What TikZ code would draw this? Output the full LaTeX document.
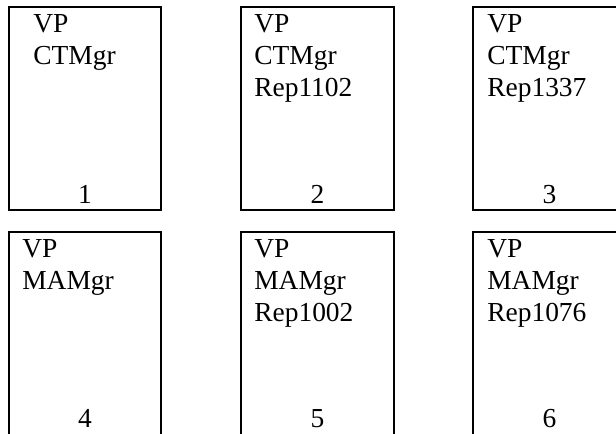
\documentclass[tikz,border=0pt]{standalone}
\usepackage{fontspec}
\setmainfont{Liberation Serif}
\begin{document}
\begin{tikzpicture}[x=0.75pt,y=-0.75pt,
  card/.style={draw=black,line width=1.5pt,rectangle,inner sep=0pt,minimum width=114.4pt,minimum height=151.9pt},
  lbl/.style={anchor=base west,inner sep=0pt,font=\fontsize{20.6pt}{24pt}\selectfont},
  num/.style={anchor=base,inner sep=0pt,font=\fontsize{20.6pt}{24pt}\selectfont}]
\useasboundingbox (0,0) rectangle (616,433);
\clip (0,0) rectangle (616,433);
\fill[white] (0,0) rectangle (616,433);
% boxes
\node[card] (b1) at (85,108.75) {};
\node[card] (b2) at (317.5,108.75) {};
\node[card] (b3) at (549.5,108.75) {};
\node[card] (b4) at (85,333.25) {};
\node[card] (b5) at (317.5,333.25) {};
\node[card] (b6) at (549.5,333.25) {};
% labels top row
\node[lbl] (t1a) at (33,32) {VP};
\node[lbl] (t1b) at (33,64) {CTMgr};
\node[lbl] (t2a) at (254,32) {VP};
\node[lbl] (t2b) at (254,64) {CTMgr};
\node[lbl] (t2c) at (254,96) {Rep1102};
\node[lbl] (t3a) at (487,32) {VP};
\node[lbl] (t3b) at (487,64) {CTMgr};
\node[lbl] (t3c) at (487,96) {Rep1337};
% labels bottom row
\node[lbl] (t4a) at (22,257) {VP};
\node[lbl] (t4b) at (22,289) {MAMgr};
\node[lbl] (t5a) at (254,257) {VP};
\node[lbl] (t5b) at (254,289) {MAMgr};
\node[lbl] (t5c) at (254,321) {Rep1002};
\node[lbl] (t6a) at (487,257) {VP};
\node[lbl] (t6b) at (487,289) {MAMgr};
\node[lbl] (t6c) at (487,321) {Rep1076};
% numbers
\node[num] (n1) at (85,203) {1};
\node[num] (n2) at (317.5,203) {2};
\node[num] (n3) at (549.5,203) {3};
\node[num] (n4) at (85,427.5) {4};
\node[num] (n5) at (317.5,427.5) {5};
\node[num] (n6) at (549.5,427.5) {6};
\end{tikzpicture}
\end{document}
